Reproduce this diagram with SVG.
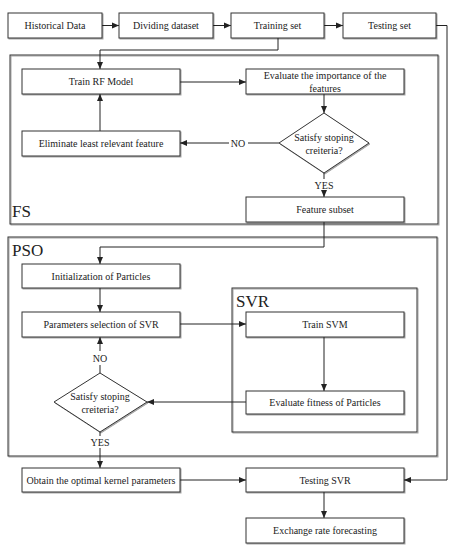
<svg xmlns="http://www.w3.org/2000/svg" width="458" height="550" viewBox="0 0 458 550" font-family="'Liberation Serif', 'Times New Roman', 'DejaVu Serif', serif">
<defs>
<style>
text{font-family:'Liberation Serif','Times New Roman','DejaVu Serif',serif;fill:#222;}
.t{font-size:10px;text-anchor:middle;dominant-baseline:central;}
.lbl{font-size:17px;}
.box{fill:#fff;stroke:#333;stroke-width:1;filter:url(#sh);}
.frame{fill:none;stroke:#333;stroke-width:1;filter:url(#sh);}
.c{fill:none;stroke:#222;stroke-width:1;}
</style>
<filter id="sh" x="-10%" y="-20%" width="120%" height="150%">
<feDropShadow dx="1" dy="1" stdDeviation="0.7" flood-color="#000" flood-opacity="0.35"/>
</filter>
<marker id="a" markerWidth="8" markerHeight="8" refX="7" refY="4" orient="auto" markerUnits="userSpaceOnUse">
<path d="M0,1 L7,4 L0,7 Z" fill="#222"/>
</marker>
</defs>
<rect width="458" height="550" fill="#fff"/>

<g id="fs-frame"><rect class="frame" x="10" y="55" width="428" height="169"/><text class="lbl" x="12" y="217">FS</text></g>
<g id="pso-frame"><rect class="frame" x="8" y="237" width="429" height="219"/><text class="lbl" x="12" y="256">PSO</text></g>
<g id="svr-frame"><rect class="frame" x="232" y="288" width="185" height="144"/><text class="lbl" x="236" y="307">SVR</text></g>

<g id="connectors">
<path class="c" d="M102,25.5 H119" marker-end="url(#a)"/>
<path class="c" d="M213,25.5 H231" marker-end="url(#a)"/>
<path class="c" d="M324,25.5 H343" marker-end="url(#a)"/>
<path class="c" d="M278,38 V50 H100 V69" marker-end="url(#a)"/>
<path class="c" d="M436,25.5 H447 V480 H404" marker-end="url(#a)"/>
<path class="c" d="M180,82 H246" marker-end="url(#a)"/>
<path class="c" d="M324,94 V113" marker-end="url(#a)"/>
<path class="c" d="M279,143 H248 M229,143 H180" marker-end="url(#a)"/>
<path class="c" d="M100,131 V94" marker-end="url(#a)"/>
<path class="c" d="M324,173 V179 M324,191 V197" marker-end="url(#a)"/>
<path class="c" d="M324,222 V247 H100 V264" marker-end="url(#a)"/>
<path class="c" d="M100,288 V312" marker-end="url(#a)"/>
<path class="c" d="M180,324 H246" marker-end="url(#a)"/>
<path class="c" d="M324,337 V391" marker-end="url(#a)"/>
<path class="c" d="M246,402 H147" marker-end="url(#a)"/>
<path class="c" d="M100,373 V365 M100,351 V337" marker-end="url(#a)"/>
<path class="c" d="M100,432 V436 M100,448 V468" marker-end="url(#a)"/>
<path class="c" d="M180,480 H246" marker-end="url(#a)"/>
<path class="c" d="M324,492 V518" marker-end="url(#a)"/>
<text class="t" x="238" y="143">NO</text>
<text class="t" x="324" y="185">YES</text>
<text class="t" x="100" y="358">NO</text>
<text class="t" x="100" y="442">YES</text>
</g>

<g id="historical"><rect class="box" x="8" y="13" width="94" height="25"/><text class="t" x="55" y="25.5">Historical Data</text></g>
<g id="dividing"><rect class="box" x="119" y="13" width="94" height="25"/><text class="t" x="166" y="25.5">Dividing dataset</text></g>
<g id="training"><rect class="box" x="231" y="13" width="93" height="25"/><text class="t" x="277.5" y="25.5">Training set</text></g>
<g id="testing"><rect class="box" x="343" y="13" width="93" height="25"/><text class="t" x="389.5" y="25.5">Testing set</text></g>

<g id="train-rf"><rect class="box" x="22" y="69" width="158" height="25"/><text class="t" x="101" y="81.5">Train RF Model</text></g>
<g id="evaluate-imp"><rect class="box" x="246" y="69" width="158" height="25"/><text class="t" x="325" y="75.5">Evaluate the importance of the</text><text class="t" x="325" y="88">features</text></g>
<g id="diamond1"><polygon class="box" points="324,113 369,143 324,173 279,143"/><text class="t" x="324" y="137">Satisfy stoping</text><text class="t" x="324" y="150">creiteria?</text></g>
<g id="eliminate"><rect class="box" x="22" y="131" width="158" height="25"/><text class="t" x="101" y="143.5">Eliminate least relevant feature</text></g>
<g id="feature-subset"><rect class="box" x="246" y="197" width="158" height="25"/><text class="t" x="325" y="209.5">Feature subset</text></g>

<g id="init"><rect class="box" x="22" y="264" width="158" height="24"/><text class="t" x="101" y="276">Initialization of Particles</text></g>
<g id="params"><rect class="box" x="22" y="312" width="158" height="25"/><text class="t" x="101" y="324.5">Parameters selection of SVR</text></g>
<g id="train-svm"><rect class="box" x="246" y="312" width="158" height="25"/><text class="t" x="325" y="324.5">Train SVM</text></g>
<g id="eval-fitness"><rect class="box" x="246" y="391" width="158" height="23"/><text class="t" x="325" y="402.5">Evaluate fitness of Particles</text></g>
<g id="diamond2"><polygon class="box" points="100,373 147,402 100,432 54,402"/><text class="t" x="100" y="396">Satisfy stoping</text><text class="t" x="100" y="409">creiteria?</text></g>

<g id="obtain"><rect class="box" x="22" y="468" width="158" height="24"/><text class="t" x="101" y="480">Obtain the optimal kernel parameters</text></g>
<g id="testing-svr"><rect class="box" x="246" y="468" width="158" height="24"/><text class="t" x="325" y="480">Testing SVR</text></g>
<g id="exchange"><rect class="box" x="246" y="518" width="158" height="25"/><text class="t" x="325" y="530.5">Exchange rate forecasting</text></g>
</svg>
